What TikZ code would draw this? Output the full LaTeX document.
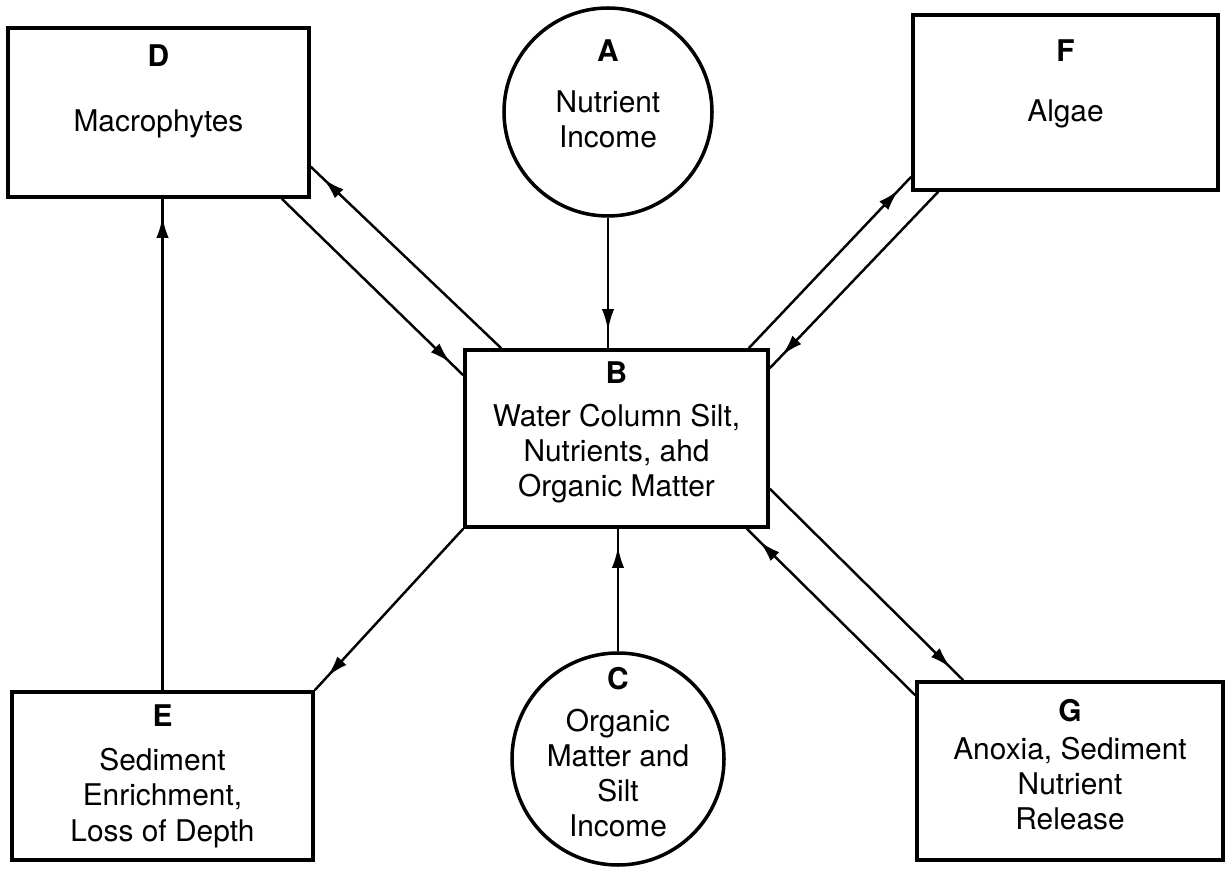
\documentclass[tikz,border=0pt]{standalone}
\usepackage{fontspec}
\setmainfont{TeX Gyre Heros}
\usetikzlibrary{positioning,calc,arrows.meta,decorations.markings}

\tikzset{
  box/.style={draw, line width=2pt, inner sep=0pt},
  src/.style={draw, circle, line width=2pt, inner sep=0pt},
  lab/.style={align=center, inner sep=0pt, font=\fontsize{17pt}{20pt}\selectfont},
  flow/.style={line width=1.4pt, postaction={decorate},
    decoration={markings, mark=at position -0.36cm with {\arrow{Latex[length=12pt,width=7pt]}}}}
}

\begin{document}
\begin{tikzpicture}
    \useasboundingbox (0,0) rectangle (24.56,-17.42);

    % boxes and circles
    \node[box, minimum width=6.02cm, minimum height=3.38cm] (D) at (3.17,-2.25) {};
    \node[src, minimum size=4.16cm] (A) at (12.16,-2.24) {};
    \node[box, minimum width=6.10cm, minimum height=3.50cm] (F) at (21.31,-2.05) {};
    \node[box, minimum width=6.06cm, minimum height=3.54cm] (B) at (12.33,-8.77) {};
    \node[box, minimum width=6.02cm, minimum height=3.36cm] (E) at (3.25,-15.52) {};
    \node[src, minimum size=4.24cm] (C) at (12.36,-15.18) {};
    \node[box, minimum width=6.12cm, minimum height=3.56cm] (G) at (21.40,-15.42) {};

    % texts
    \node[lab, below=0.37cm of D.north] (Dlab) {\textbf{D}\\[17pt]Macrophytes};
    \node[lab, below=0.67cm of A.north] (Alab) {\textbf{A}\\[9pt]Nutrient\\Income};
    \node[lab, below=0.53cm of F.north] (Flab) {\textbf{F}\\[14pt]Algae};
    \node[lab, below=0.27cm of B.north] (Blab) {\textbf{B}\\[4pt]Water Column Silt,\\Nutrients, ahd\\Organic Matter};
    \node[lab, below=0.29cm of E.north] (Elab) {\textbf{E}\\[5pt]Sediment\\Enrichment,\\Loss of Depth};
    \node[lab, below=0.31cm of C.north] (Clab) {\textbf{C}\\[4pt]Organic\\Matter and\\Silt\\Income};
    \node[lab, below=0.37cm of G.north] (Glab) {\textbf{G}\\[1.5pt]Anoxia, Sediment\\Nutrient\\Release};

    % connectors
    \draw[flow] (A.south) -- (A.south |- B.north);
    \draw[flow] (C.north) -- (C.north |- B.south);
    \draw[flow] (E.north) -- (E.north |- D.south);

    \draw[flow] ($(B.north west)+(0.76,0)$) -- ($(D.south east)+(0,0.64)$);
    \draw[flow] ($(D.south east)+(-0.58,0)$) -- ($(B.north west)+(0,-0.54)$);

    \draw[flow] ($(B.north east)+(-0.42,0)$) -- ($(F.south west)+(0,0.30)$);
    \draw[flow] ($(F.south west)+(0.54,0)$) -- ($(B.north east)+(0,-0.40)$);

    \draw[flow] (B.south west) -- (E.north east);

    \draw[flow] ($(B.south east)+(0,0.80)$) -- ($(G.north west)+(0.96,0)$);
    \draw[flow] ($(G.north west)+(0,-0.30)$) -- ($(B.south east)+(-0.46,0)$);
\end{tikzpicture}
\end{document}
